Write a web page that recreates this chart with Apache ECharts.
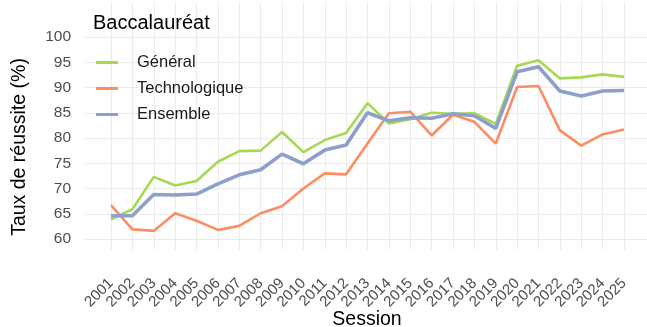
<!DOCTYPE html>
<html>
<head>
<meta charset="utf-8">
<script src="https://cdn.jsdelivr.net/npm/echarts@6/dist/echarts.min.js"></script>
<style>
  html, body { margin: 0; padding: 0; background: #fff; }
  #chart { width: 647px; height: 327px; }
</style>
</head>
<body>
<div id="chart"></div>
<script>
// Sessions of the baccalauréat
const sessions = [2001, 2002, 2003, 2004, 2005, 2006, 2007, 2008, 2009, 2010,
                  2011, 2012, 2013, 2014, 2015, 2016, 2017, 2018, 2019, 2020,
                  2021, 2022, 2023, 2024, 2025];

// Success rates (%) per track
const general = [63.9, 65.9, 72.3, 70.6, 71.5, 75.3, 77.4, 77.5, 81.2, 77.2,
                 79.6, 81.0, 86.9, 82.9, 83.7, 85.0, 84.8, 84.9, 82.8, 94.3,
                 95.4, 91.8, 92.0, 92.6, 92.1];
const techno = [66.7, 61.9, 61.6, 65.1, 63.6, 61.8, 62.6, 65.1, 66.5, 70.0,
                73.0, 72.8, 78.9, 84.9, 85.2, 80.5, 84.6, 83.2, 78.9, 90.1,
                90.3, 81.5, 78.5, 80.7, 81.7];
const ensemble = [64.6, 64.6, 68.8, 68.7, 68.9, 70.9, 72.7, 73.7, 76.8, 74.9,
                  77.6, 78.6, 85.0, 83.4, 84.0, 83.9, 84.8, 84.4, 81.9, 93.1,
                  94.1, 89.3, 88.3, 89.3, 89.4];

const seriesNames = ['Général', 'Technologique', 'Ensemble'];
const yTicks = { min: 60, max: 100, step: 5 };

const colors = ['#a6d854', '#fc8d62', '#8da0cb'];
const gridColor = '#ebebeb';
const font = 'Liberation Sans, Arial, sans-serif';

// Plot panel in pixels: sessions span x 111..624, values 60..100 span y 239..37
const panel = { x0: 111, x1: 624, left: 85, right: 647 };
const yearPx = (panel.x1 - panel.x0) / (sessions[sessions.length - 1] - sessions[0]);
const xMinExt = sessions[0] - (panel.x0 - panel.left) / yearPx;
const xMaxExt = sessions[sessions.length - 1] + (panel.right - panel.x1) / yearPx;

const pairs = arr => sessions.map((s, i) => [s, arr[i]]);

const chart = echarts.init(document.getElementById('chart'), null, { renderer: 'canvas' });

const lineSeries = (idx, values, width) => ({
  name: seriesNames[idx], type: 'line', xAxisIndex: 1, yAxisIndex: 1,
  data: pairs(values), showSymbol: false, symbol: 'none', clip: false,
  lineStyle: { color: colors[idx], width: width }, itemStyle: { color: colors[idx] }
});

const axisTitle = (text, x, y, rotation) => ({
  type: 'text',
  x: x,
  y: y,
  rotation: rotation,
  style: {
    text: text,
    fontFamily: font,
    fontSize: 19.5,
    fill: '#000',
    align: 'center',
    verticalAlign: 'middle'
  }
});

chart.setOption({
  animation: false,
  backgroundColor: '#ffffff',
  textStyle: { fontFamily: font },
  title: {
    text: 'Baccalauréat',
    left: 88,
    top: 8,
    textStyle: { fontFamily: font, fontSize: 20, fontWeight: 'normal', color: '#000' }
  },
  legend: {
    data: seriesNames,
    orient: 'vertical',
    left: 91,
    top: 48,
    icon: 'rect',
    itemWidth: 22,
    itemHeight: 3,
    itemGap: 7,
    textStyle: { fontFamily: font, fontSize: 16.5, color: '#1a1a1a', lineHeight: 19, padding: [0, 0, 0, 14] }
  },
  graphic: [
    axisTitle('Taux de réussite (%)', 20, 147, Math.PI / 2),
    axisTitle('Session', 367, 320, 0)
  ],
  grid: [
    // vertical grid, one line per session
    { left: panel.x0, right: 647 - panel.x1, top: 2, bottom: 77 },
    // horizontal grid, value labels and the lines
    { left: panel.left, right: 0, top: 37, bottom: 88 }
  ],
  xAxis: [
    {
      gridIndex: 0,
      type: 'value',
      min: sessions[0],
      max: sessions[sessions.length - 1],
      interval: 1,
      axisLine: { show: false },
      axisTick: { show: false },
      splitLine: { show: true, lineStyle: { color: gridColor, width: 1 } },
      axisLabel: {
        rotate: 45,
        margin: 31,
        fontSize: 15,
        color: '#4d4d4d',
        fontFamily: font,
        formatter: v => String(v)
      }
    },
    {
      gridIndex: 1,
      type: 'value',
      show: false,
      min: xMinExt,
      max: xMaxExt
    }
  ],
  yAxis: [
    {
      gridIndex: 0,
      type: 'value',
      min: 0,
      max: 1,
      show: false
    },
    {
      gridIndex: 1,
      type: 'value',
      min: yTicks.min,
      max: yTicks.max,
      interval: yTicks.step,
      axisLine: { show: false },
      axisTick: { show: false },
      splitLine: { show: true, lineStyle: { color: gridColor, width: 1 } },
      axisLabel: { margin: 14, fontSize: 15.5, color: '#4d4d4d', fontFamily: font }
    }
  ],
  series: [
    lineSeries(0, general, 2.6),
    lineSeries(1, techno, 2.6),
    lineSeries(2, ensemble, 3.6)
  ]
});
</script>
</body>
</html>
